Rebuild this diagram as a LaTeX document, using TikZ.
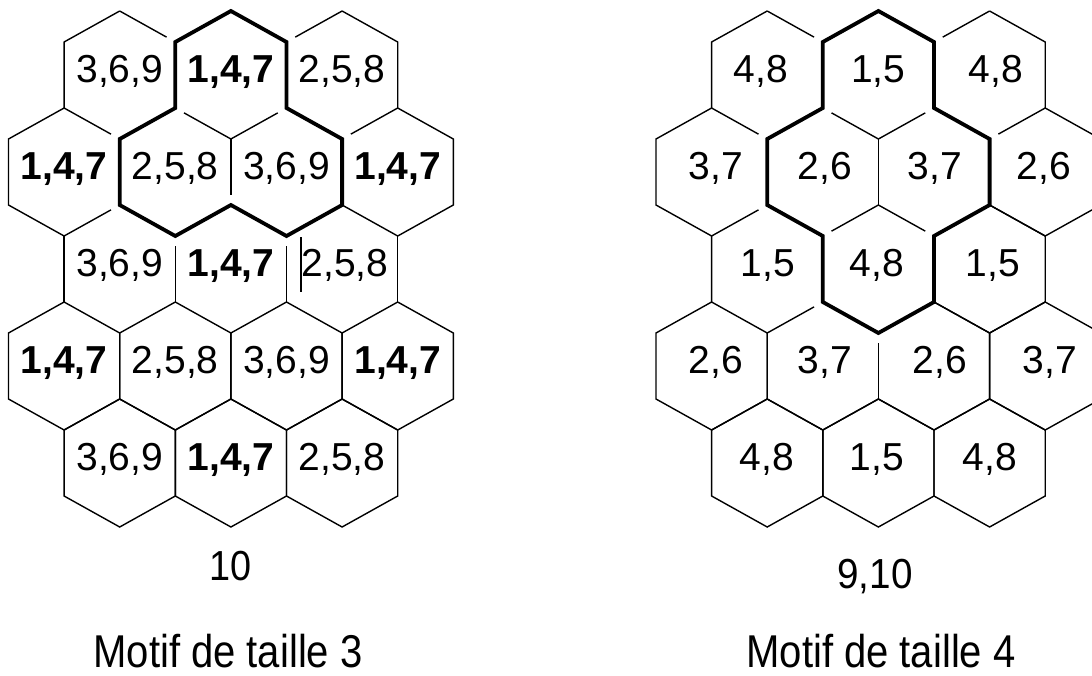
\documentclass[tikz,border=0pt]{standalone}
\usepackage{graphicx}
\usepackage{fontspec}
\setmainfont{Liberation Sans}
\begin{document}
\begin{tikzpicture}[x=1pt,y=-1pt,
  thinl/.style={line width=1.4pt, line join=miter},
  boldl/.style={line width=3.8pt, line join=miter},
  gapa/.style={thinl, shorten <=10pt},
  gapb/.style={thinl, shorten >=10pt},
  lab/.style={font=\fontsize{39}{44}\selectfont, anchor=base, inner sep=0pt},
  labb/.style={font=\fontsize{39}{44}\selectfont\bfseries, anchor=base, inner sep=0pt},
  captxt/.style={anchor=base, inner sep=0pt, text depth=0pt}]
\clip (0,0) rectangle (1092,675);
\fill[white] (0,0) rectangle (1092,675);
% lattice vertices of the two grids
\foreach \j/\yy in {0/11,1/42,2/108,3/139,4/205,5/236,6/302,7/333,8/399,9/430,10/496,11/527}{
  \foreach \k in {0,...,8}{
    \coordinate (L-\k-\j) at (8.5+\k*55.6,\yy);
    \coordinate (R-\k-\j) at (656+\k*55.6,\yy);
  }
}
% full hexagons (rows 4-5 left, row 5 and outer row-4 cells right)
\foreach \g/\kc/\r in {L/1/4,L/3/4,L/5/4,L/7/4,L/2/5,L/4/5,L/6/5,R/1/4,R/7/4,R/2/5,R/4/5,R/6/5}{
  \pgfmathtruncatemacro\ka{\kc-1}
  \pgfmathtruncatemacro\kb{\kc+1}
  \pgfmathtruncatemacro\ja{2*\r-2}
  \pgfmathtruncatemacro\jb{2*\r-1}
  \pgfmathtruncatemacro\jc{2*\r}
  \pgfmathtruncatemacro\jd{2*\r+1}
  \draw[thinl] (\g-\kc-\ja) -- (\g-\kb-\jb) -- (\g-\kb-\jc) -- (\g-\kc-\jd) -- (\g-\ka-\jc) -- (\g-\ka-\jb) -- cycle;
}
% ---------- left grid, rows 1-3 ----------
\draw[thinl] (L-1-2) -- (L-1-1) -- (L-2-0);
\draw[gapb] (L-2-0) -- (L-3-1);
\draw[gapb] (L-1-2) -- (L-2-3);
\draw[gapa] (L-5-1) -- (L-6-0);
\draw[thinl] (L-6-0) -- (L-7-1) -- (L-7-2);
\draw[gapb] (L-7-2) -- (L-6-3);
\draw[gapa] (L-3-2) -- (L-4-3);
\draw[gapb] (L-4-3) -- (L-5-2);
\draw[gapb] (L-4-3) -- (L-4-4);
\draw[thinl] (L-1-2) -- (L-0-3) -- (L-0-4) -- (L-1-5);
\draw[gapa] (L-2-4) -- (L-1-5);
\draw[thinl] (L-7-2) -- (L-8-3) -- (L-8-4) -- (L-7-5) -- (L-6-4);
\draw[thinl] (L-1-5) -- (L-1-6);
\draw[gapa] (L-3-5) -- (L-3-6);
\draw[gapa] (L-5-5) -- (L-5-6);
\draw[thinl] (L-7-5) -- (L-7-6);
\draw[thinl] (301,237) -- (301,292);
\draw[boldl] (L-3-1) -- (L-4-0) -- (L-5-1) -- (L-5-2) -- (L-6-3) -- (L-6-4) -- (L-5-5) -- (L-4-4) -- (L-3-5) -- (L-2-4) -- (L-2-3) -- (L-3-2) -- cycle;
% ---------- right grid, rows 1-4 ----------
\draw[thinl] (R-1-2) -- (R-1-1) -- (R-2-0);
\draw[gapb] (R-2-0) -- (R-3-1);
\draw[gapb] (R-1-2) -- (R-2-3);
\draw[gapa] (R-5-1) -- (R-6-0);
\draw[thinl] (R-6-0) -- (R-7-1) -- (R-7-2);
\draw[gapb] (R-7-2) -- (R-6-3);
\draw[thinl] (R-1-2) -- (R-0-3) -- (R-0-4) -- (R-1-5) -- (R-1-6);
\draw[gapa] (R-2-4) -- (R-1-5);
\draw[thinl] (R-7-2) -- (R-8-3) -- (R-8-4) -- (R-7-5) -- (R-6-4);
\draw[gapa] (R-3-2) -- (R-4-3);
\draw[gapb] (R-4-3) -- (R-5-2);
\draw[thinl] (R-4-3) -- (R-4-4);
\draw[gapb] (R-4-4) -- (R-3-5);
\draw[gapb] (R-4-4) -- (R-5-5);
\draw[thinl] (R-6-4) -- (R-7-5) -- (R-7-6) -- (R-6-7) -- (R-5-6);
\draw[gapa] (R-3-6) -- (R-2-7);
\draw[gapa] (R-4-7) -- (R-4-8);
\draw[thinl] (R-4-8) -- (R-3-9) -- (R-2-8) -- (R-2-7);
\draw[thinl] (R-5-6) -- (R-6-7) -- (R-6-8) -- (R-5-9) -- (R-4-8);
\draw[boldl] (R-3-1) -- (R-4-0) -- (R-5-1) -- (R-5-2) -- (R-6-3) -- (R-6-4) -- (R-5-5) -- (R-5-6) -- (R-4-7) -- (R-3-6) -- (R-3-5) -- (R-2-4) -- (R-2-3) -- (R-3-2) -- cycle;
% ---------- labels, left ----------
\node[lab]  (a11) at (119.7,82) {3,6,9};
\node[labb] (a12) at (230.9,82) {1,4,7};
\node[lab]  (a13) at (342.1,82) {2,5,8};
\node[labb] (a21) at (64.1,179) {1,4,7};
\node[lab]  (a22) at (175.3,179) {2,5,8};
\node[lab]  (a23) at (286.5,179) {3,6,9};
\node[labb] (a24) at (397.7,179) {1,4,7};
\node[lab]  (a31) at (119.7,276) {3,6,9};
\node[labb] (a32) at (230.9,276) {1,4,7};
\node[lab]  (a33) at (345,276) {2,5,8};
\node[labb] (a41) at (64.1,373) {1,4,7};
\node[lab]  (a42) at (175.3,373) {2,5,8};
\node[lab]  (a43) at (286.5,373) {3,6,9};
\node[labb] (a44) at (397.7,373) {1,4,7};
\node[lab]  (a51) at (119.7,470) {3,6,9};
\node[labb] (a52) at (230.9,470) {1,4,7};
\node[lab]  (a53) at (342.1,470) {2,5,8};
% ---------- labels, right ----------
\node[lab] (b11) at (761,82) {4,8};
\node[lab] (b12) at (878.4,82) {1,5};
\node[lab] (b13) at (996,82) {4,8};
\node[lab] (b21) at (716,179) {3,7};
\node[lab] (b22) at (825,179) {2,6};
\node[lab] (b23) at (935,179) {3,7};
\node[lab] (b24) at (1044,179) {2,6};
\node[lab] (b31) at (768,276) {1,5};
\node[lab] (b32) at (877,276) {4,8};
\node[lab] (b33) at (993,276) {1,5};
\node[lab] (b41) at (716,373) {2,6};
\node[lab] (b42) at (825,373) {3,7};
\node[lab] (b43) at (940,373) {2,6};
\node[lab] (b44) at (1050,373) {3,7};
\node[lab] (b51) at (767,470) {4,8};
\node[lab] (b52) at (877,470) {1,5};
\node[lab] (b53) at (990,470) {4,8};
% ---------- captions ----------
\node[captxt, font=\fontsize{42}{48}\selectfont] (n1) at (231,580) {\scalebox{0.9}[1]{10}};
\node[captxt, font=\fontsize{42}{48}\selectfont] (n2) at (875,588) {\scalebox{0.92}[1]{9,10}};
\node[captxt, font=\fontsize{46}{52}\selectfont] (m1) at (228,667) {\scalebox{0.87}[1]{Motif de taille 3}};
\node[captxt, font=\fontsize{46}{52}\selectfont] (m2) at (881,667) {\scalebox{0.87}[1]{Motif de taille 4}};
\end{tikzpicture}
\end{document}
